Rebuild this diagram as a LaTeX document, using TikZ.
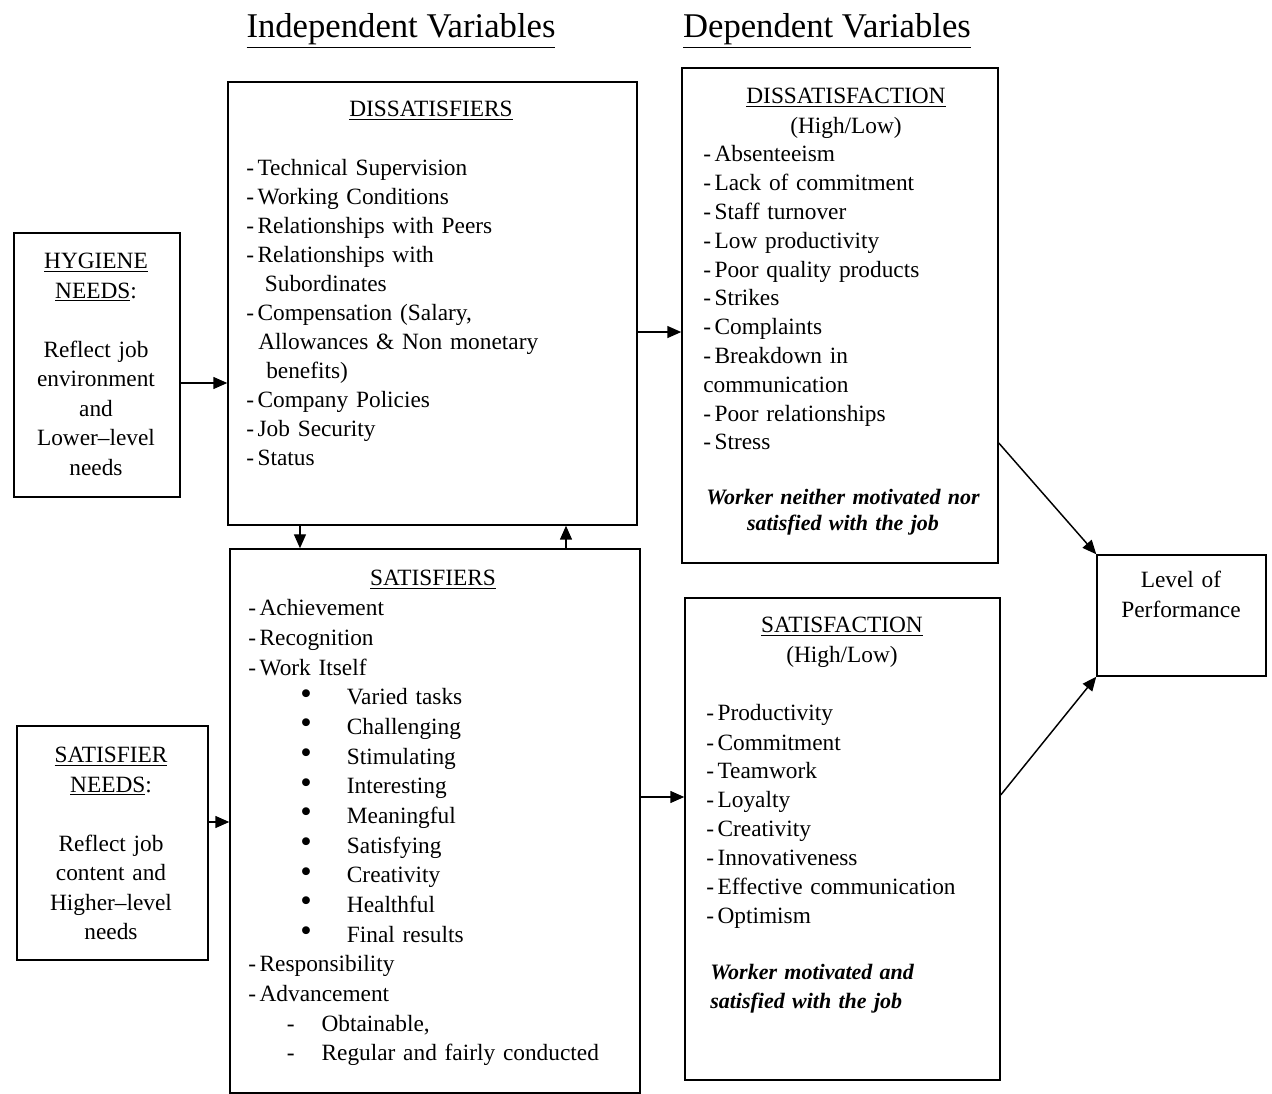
\documentclass[tikz,border=0pt]{standalone}
\usepackage{fontspec}
\setmainfont{Liberation Serif}
\usetikzlibrary{arrows.meta,positioning,fit}

\newcommand{\itm}{\makebox[8.5pt][l]{-}}
\newcommand{\bul}[1]{\hspace*{39pt}\makebox[35pt][l]{\raisebox{0.5pt}{\scalebox{1.4}{\textbullet}}}#1}
\newcommand{\sdsh}[1]{\hspace*{29pt}\makebox[26pt][l]{-}#1}

\begin{document}
\begin{tikzpicture}[x=0.75pt, y=-0.75pt,
    box/.style={draw, line width=1.1pt, inner sep=0pt},
    lst/.style={anchor=base west, align=left, inner sep=0pt, text width=290pt,
                font=\fontsize{17.5}{#1}\selectfont},
    lst/.default=21.7pt,
    ttl/.style={anchor=base, align=center, inner sep=0pt, text width=#1,
                font=\fontsize{17.5}{22.1}\selectfont},
    ttl/.default=280pt,
    hdr/.style={anchor=base, inner sep=0pt, font=\fontsize{26}{30}\selectfont},
    note/.style={inner sep=0pt, font=\fontsize{16.5}{#1}\selectfont\bfseries\itshape},
    note/.default=19.5pt,
    arr/.style={-{Triangle[length=10.5pt,width=9pt]}, line width=1.1pt}
  ]
  \useasboundingbox (0,0) rectangle (1272,1094);

  % headings
  \node[hdr] (hdrind) at (401,38) {\underline{Independent Variables}};
  \node[hdr] (hdrdep) at (827,38) {\underline{Dependent Variables}};

  % boxes
  \node[box, fit={(14,233) (180,497)}]   (hyg)  {};
  \node[box, fit={(17,726) (208,960)}]   (satn) {};
  \node[box, fit={(228,82) (637,525)}]   (dsf)  {};
  \node[box, fit={(230,549) (640,1093)}] (sf)   {};
  \node[box, fit={(682,68) (998,563)}]   (dsn)  {};
  \node[box, fit={(685,598) (1000,1080)}] (sn)  {};
  \node[box, fit={(1097,555) (1266,676)}] (lvl) {};

  % needs
  \node[ttl=130pt] (hygtxt) at (96,269)
    {\underline{HYGIENE}\\\underline{NEEDS}:\\[22.1pt]Reflect job\\environment\\and\\Lower--level\\needs};
  \node[ttl=130pt] (satntxt) at (111,763)
    {\underline{SATISFIER}\\\underline{NEEDS}:\\[22.1pt]Reflect job\\content and\\Higher--level\\needs};

  % dissatisfiers
  \node[ttl] (dsftitle) at (431,117) {\underline{DISSATISFIERS}};
  \node[lst] (dsflist) at (246,176)
    {\itm Technical Supervision\\
     \itm Working Conditions\\
     \itm Relationships with Peers\\
     \itm Relationships with\\
     \hspace*{14pt}Subordinates\\
     \itm Compensation (Salary,\\
     \hspace*{9pt}Allowances \& Non monetary\\
     \hspace*{15pt}benefits)\\
     \itm Company Policies\\
     \itm Job Security\\
     \itm Status};

  % satisfiers
  \node[ttl] (sftitle) at (433,586) {\underline{SATISFIERS}};
  \node[lst=22.25pt] (sflist) at (248,616)
    {\itm Achievement\\
     \itm Recognition\\
     \itm Work Itself\\
     \bul{Varied tasks}\\
     \bul{Challenging}\\
     \bul{Stimulating}\\
     \bul{Interesting}\\
     \bul{Meaningful}\\
     \bul{Satisfying}\\
     \bul{Creativity}\\
     \bul{Healthful}\\
     \bul{Final results}\\
     \itm Responsibility\\
     \itm Advancement\\
     \sdsh{Obtainable,}\\
     \sdsh{Regular and fairly conducted}};

  % dissatisfaction
  \node[ttl] (dsntitle) at (846,104) {\underline{DISSATISFACTION}\\(High/Low)};
  \node[lst=21.6pt] (dsnlist) at (703,162)
    {\itm Absenteeism\\
     \itm Lack of commitment\\
     \itm Staff turnover\\
     \itm Low productivity\\
     \itm Poor quality products\\
     \itm Strikes\\
     \itm Complaints\\
     \itm Breakdown in\\
     communication\\
     \itm Poor relationships\\
     \itm Stress};
  \node[note, anchor=base, align=center, text width=290pt] (dsnnote) at (843,505)
    {Worker neither motivated nor\\satisfied with the job};

  % satisfaction
  \node[ttl] (sntitle) at (842,633) {\underline{SATISFACTION}\\(High/Low)};
  \node[lst=21.75pt] (snlist) at (706,721)
    {\itm Productivity\\
     \itm Commitment\\
     \itm Teamwork\\
     \itm Loyalty\\
     \itm Creativity\\
     \itm Innovativeness\\
     \itm Effective communication\\
     \itm Optimism};
  \node[note=21.75pt, anchor=base west, align=left, text width=220pt] (snnote) at (710,979)
    {Worker motivated and\\satisfied with the job};

  % performance
  \node[ttl=120pt] (lvltxt) at (1181,588) {Level of\\Performance};

  % connectors
  \draw[arr] ([yshift=-13.5pt]hyg.east) -- ([yshift=-13.5pt]hyg.east -| dsf.west);
  \draw[arr] ([yshift=15.75pt]satn.east) -- ([yshift=15.75pt]satn.east -| sf.west);
  \draw[arr] ([yshift=-21.4pt]dsf.east) -- ([yshift=-21.4pt]dsf.east -| dsn.west);
  \draw[arr] ([yshift=18pt]sf.east) -- ([yshift=18pt]sf.east -| sn.west);
  \draw[arr] ([xshift=-99.4pt]dsf.south) -- ([xshift=-99.4pt]dsf.south |- sf.north);
  \draw[arr] ([xshift=98.25pt]sf.north) -- ([xshift=98.25pt]sf.north |- dsf.south);
  \draw[arr] ([yshift=-95.6pt]dsn.east) -- (lvl.north west);
  \draw[arr] ([yshift=33pt]sn.east) -- (lvl.south west);
\end{tikzpicture}
\end{document}
